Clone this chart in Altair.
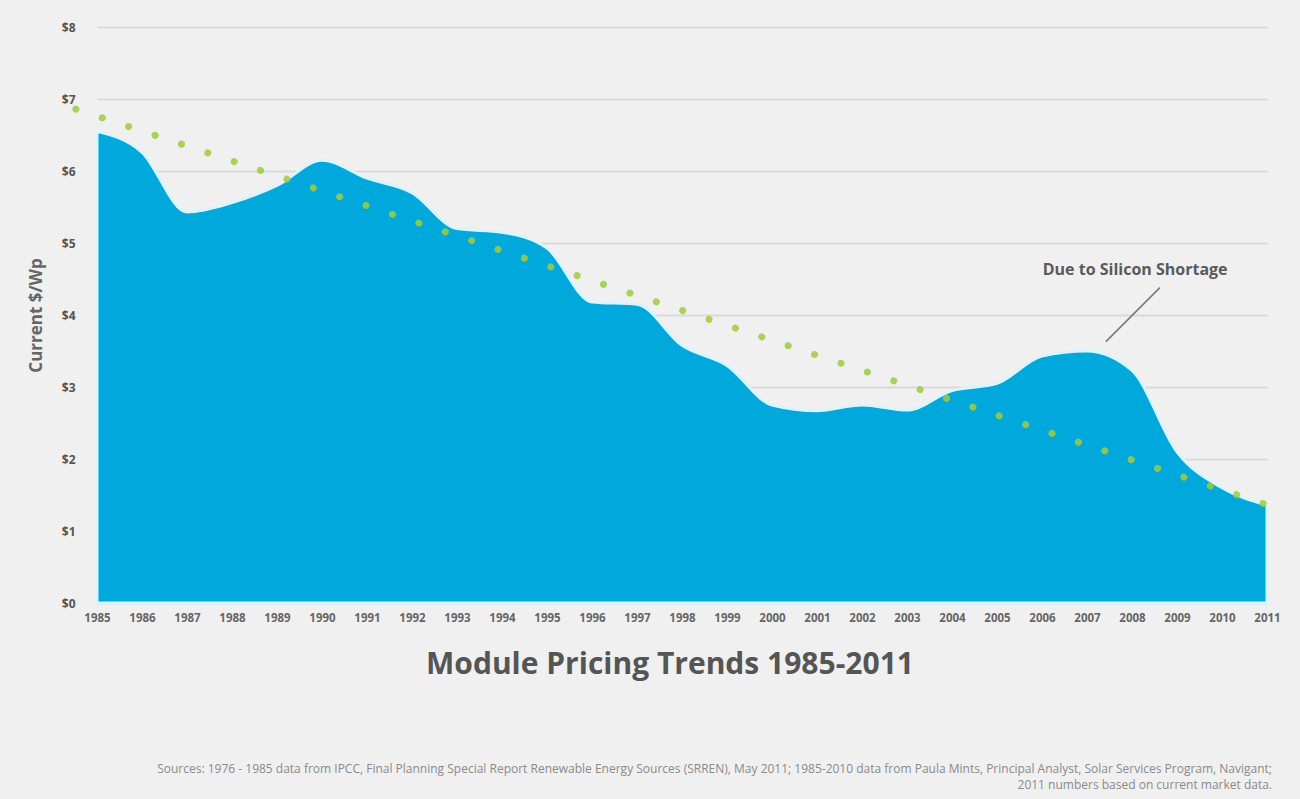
import altair as alt
import pandas as pd

years = list(range(1985, 2012))
price = [6.55, 6.26, 5.43, 5.56, 5.80, 6.15, 5.90, 5.70, 5.20, 5.15, 4.93, 4.18, 4.15,
         3.58, 3.30, 2.75, 2.67, 2.75, 2.68, 2.95, 3.05, 3.43, 3.50, 3.23, 2.10, 1.60, 1.36]
trend_years = [1984.53, 2011.02]
trend_price = [6.86, 1.36]
y_ticks = [0, 1, 2, 3, 4, 5, 6, 7, 8]
note_text = ["Due to Silicon Shortage"]
note_year = [2008.07]
note_price = [4.62]
leader_from = [2008.62, 4.38]
leader_to = [2007.42, 3.63]
title_text = "Module Pricing Trends 1985-2011"
source_lines = [
    "Sources: 1976 - 1985 data from IPCC, Final Planning Special Report Renewable Energy Sources (SRREN), May 2011; 1985-2010 data from Paula Mints, Principal Analyst, Solar Services Program, Navigant;",
    "2011 numbers based on current market data.",
]

df = pd.DataFrame({"year": years, "price": price})
trend = pd.DataFrame({"year": trend_years, "price": trend_price})
note = pd.DataFrame({"year": note_year, "price": note_price, "t": note_text})
leader = pd.DataFrame({"year": [leader_from[0]], "price": [leader_from[1]],
                       "year2": [leader_to[0]], "price2": [leader_to[1]]})

xscale = alt.Scale(domain=[1985, 2011], nice=False, zero=False)
yscale = alt.Scale(domain=[0, 8], nice=False)

xaxis = alt.Axis(
    values=years, format="d", title=None, grid=False, domain=False, ticks=False,
    labelFontSize=11.5, labelFontWeight="bold", labelColor="#666666",
    labelFont="Open Sans", labelPadding=9, labelFlush=False)
yaxis = alt.Axis(
    values=y_ticks, labelExpr="'$' + datum.value", title="Current $/Wp",
    titleFontSize=17, titleFontWeight="bold", titleColor="#666666",
    titleFont="Open Sans", titlePadding=16,
    grid=True, gridColor="#d9d9d9", gridWidth=2, domain=False, ticks=False,
    labelFontSize=12, labelFontWeight="bold", labelColor="#555555",
    labelFont="Open Sans", labelPadding=22)

X = alt.X("year:Q", scale=xscale, axis=xaxis)
Y = alt.Y("price:Q", scale=yscale, axis=yaxis)

area = alt.Chart(df).mark_area(
    color="#00a8dc", stroke="#d8f6ff", strokeWidth=3, interpolate="monotone"
).encode(x=X, y=Y)

dots = alt.Chart(trend).mark_line(
    color="#9fcb3f", opacity=0.85, strokeWidth=7, strokeCap="round",
    strokeDash=[0.1, 27.7]
).encode(x=X, y=Y)

rule = alt.Chart(leader).mark_rule(color="#777777", strokeWidth=1.5).encode(
    x=X, y=Y, x2="year2:Q", y2="price2:Q")

note_mark = alt.Chart(note).mark_text(
    font="Open Sans", fontSize=16, fontWeight="bold", color="#5a5a5a",
    align="center", baseline="middle"
).encode(x=X, y=Y, text="t:N")

title_mark = alt.Chart(pd.DataFrame({"t": [title_text]})).mark_text(
    font="Open Sans", fontSize=30, fontWeight="bold", color="#555555",
    align="center", baseline="middle"
).encode(x=alt.value(573), y=alt.value(638), text="t:N")

src1 = alt.Chart(pd.DataFrame({"t": [source_lines[0]]})).mark_text(
    font="Open Sans", fontSize=12, color="#8a8a8a", align="right", baseline="middle"
).encode(x=alt.value(1175), y=alt.value(742), text="t:N")

src2 = alt.Chart(pd.DataFrame({"t": [source_lines[1]]})).mark_text(
    font="Open Sans", fontSize=12, color="#8a8a8a", align="right", baseline="middle"
).encode(x=alt.value(1175), y=alt.value(758), text="t:N")

chart = alt.layer(area, dots, rule, note_mark, title_mark, src1, src2).properties(
    width=1170, height=576,
    autosize=alt.AutoSizeParams(type="none"),
    padding={"left": 97, "top": 27, "right": 33, "bottom": 196},
    background="#f0f0f0",
).configure_view(stroke=None)

chart.save("out.html", embed_options={"renderer": "svg", "actions": False})
